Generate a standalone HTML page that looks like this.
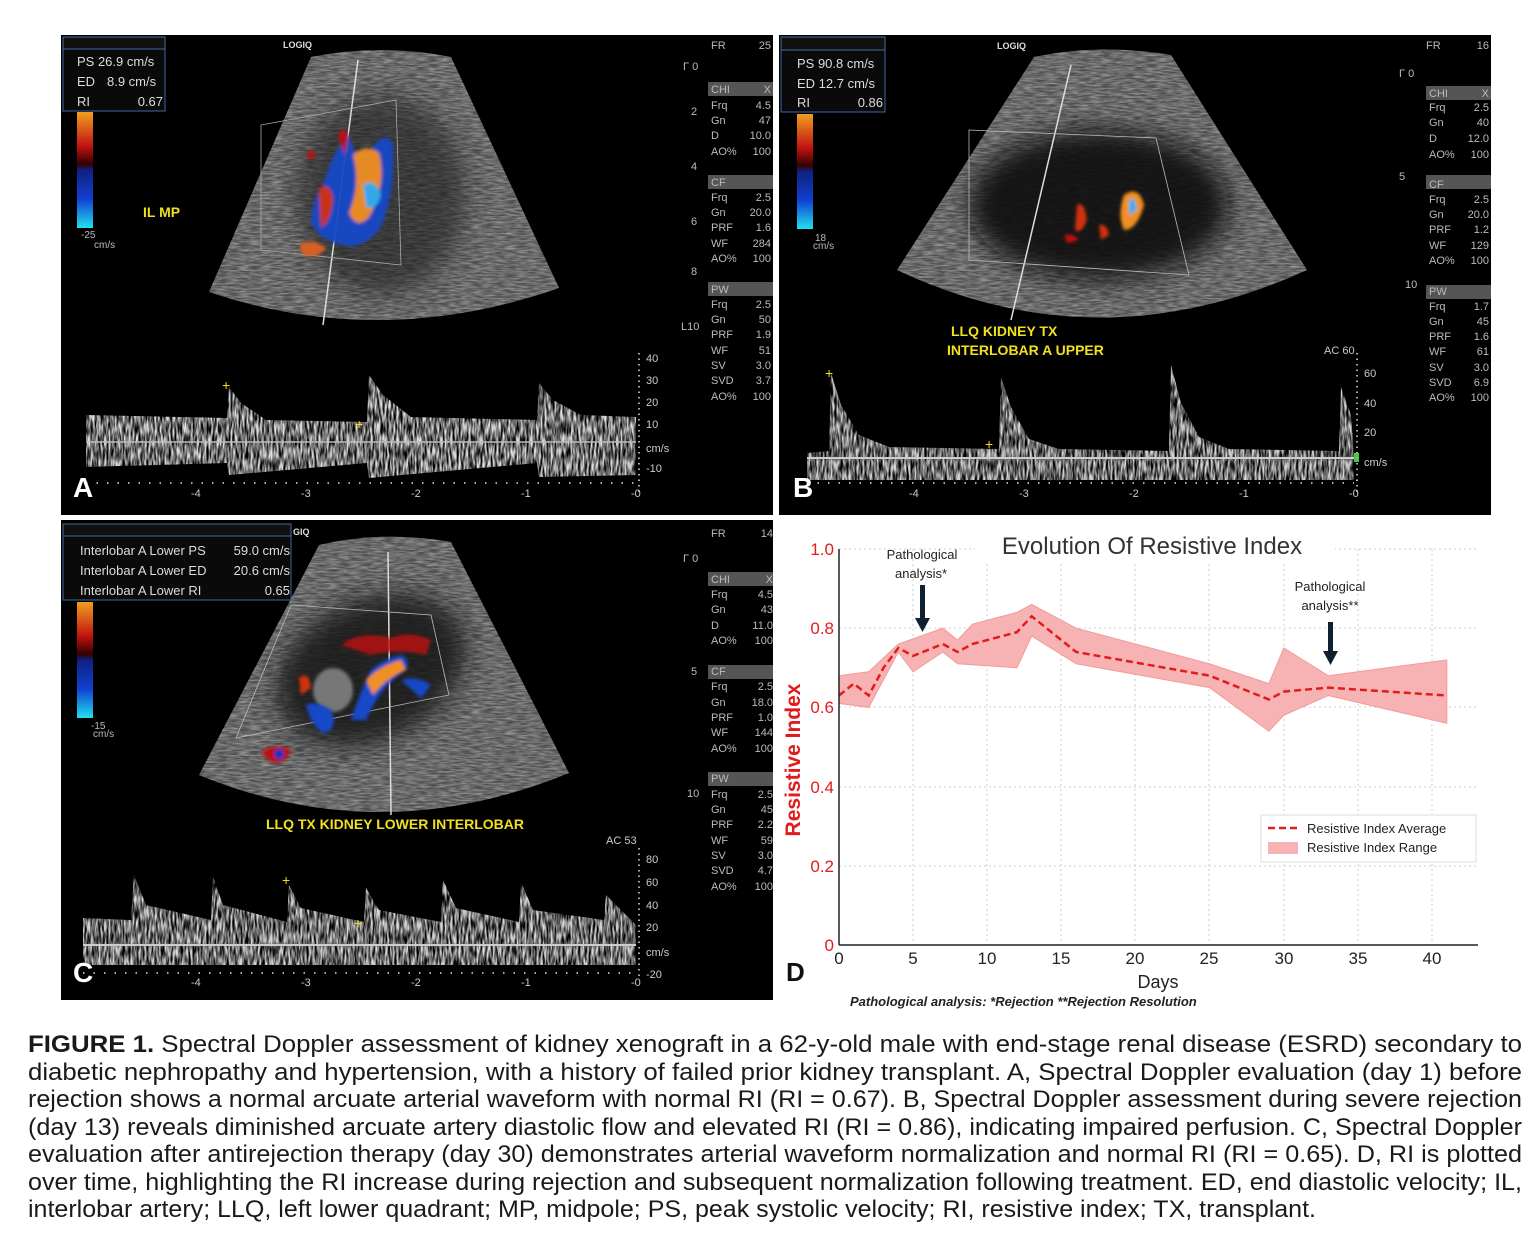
<!DOCTYPE html>
<html><head><meta charset="utf-8"><style>
body{margin:0;background:#fff;width:1530px;height:1240px;overflow:hidden}
svg{position:absolute;left:0;top:0}
.s{font-family:"Liberation Sans",sans-serif}
</style></head><body>
<svg width="1530" height="1240" viewBox="0 0 1530 1240" class="s">
<defs>
<filter id="tex" x="0" y="0" width="100%" height="100%">
<feTurbulence type="fractalNoise" baseFrequency="0.09 0.6" numOctaves="2" seed="3" result="n"/>
<feColorMatrix in="n" type="matrix" values="0 0 0 0 0.6  0 0 0 0 0.6  0 0 0 0 0.6  0 0 0 1.6 -0.45" result="m"/>
<feComposite in="SourceGraphic" in2="m" operator="in"/>
</filter>
<filter id="tex2" x="0" y="0" width="100%" height="100%">
<feTurbulence type="fractalNoise" baseFrequency="0.5 0.08" numOctaves="2" seed="7" result="n"/>
<feColorMatrix in="n" type="matrix" values="0 0 0 0 1  0 0 0 0 1  0 0 0 0 1  0 0 0 2.2 -0.6" result="m"/>
<feComposite in="SourceGraphic" in2="m" operator="in"/>
</filter>
<filter id="bl" x="-30%" y="-30%" width="160%" height="160%"><feGaussianBlur stdDeviation="12"/></filter>
<filter id="bl2" x="-30%" y="-30%" width="160%" height="160%"><feGaussianBlur stdDeviation="1.5"/></filter>
<radialGradient id="kid" cx="0.5" cy="0.5" r="0.5"><stop offset="0" stop-color="#1a1a1a"/><stop offset="0.7" stop-color="#2a2a2a"/><stop offset="1" stop-color="#2a2a2a" stop-opacity="0"/></radialGradient>
<linearGradient id="cbar" x1="0" y1="0" x2="0" y2="1"><stop offset="0" stop-color="#f0a020"/><stop offset="0.3" stop-color="#c01010"/><stop offset="0.45" stop-color="#300"/><stop offset="0.5" stop-color="#102080"/><stop offset="0.75" stop-color="#1040d0"/><stop offset="1" stop-color="#20e0f0"/></linearGradient>
</defs>

<!-- ============ PANEL A ============ -->
<g transform="translate(61,35)">
<rect width="712" height="480" fill="#000"/>
<path d="M250,22 Q320,8 390,22 L498,253 Q320,315 148,257 Z" fill="#4e4e4e"/>
<path d="M250,22 Q320,8 390,22 L498,253 Q320,315 148,257 Z" fill="#a0a0a0" filter="url(#tex)"/>
<ellipse cx="320" cy="160" rx="85" ry="100" fill="#1c1c1c" opacity="0.6" filter="url(#bl)"/>
<line x1="297" y1="25" x2="262" y2="290" stroke="#ddd" stroke-width="1.5"/>
<path d="M200,90 L335,65 L340,230 L200,215 Z" fill="none" stroke="#aaa" stroke-width="0.8"/>
<g opacity="0.95" filter="url(#bl2)">
<path d="M262,150 Q272,115 288,100 Q298,135 308,118 Q325,92 332,110 Q334,165 318,195 Q300,215 282,210 Q258,205 250,188 Q250,168 262,150 Z" fill="#1848c8"/>
<path d="M292,120 Q305,108 318,118 Q326,150 308,182 Q296,195 288,178 Q300,150 292,120 Z" fill="#f09020"/>
<path d="M258,155 Q266,145 272,162 Q270,188 260,192 Z" fill="#d03010"/>
<path d="M302,150 Q314,142 320,160 Q316,176 305,172 Z" fill="#30b0f0"/>
<path d="M277,100 Q283,90 287,100 L284,120 Z" fill="#c01010"/>
<path d="M238,210 Q252,202 265,213 Q258,224 242,220 Z" fill="#e06020"/>
<circle cx="250" cy="120" r="4" fill="#c01010"/>
</g>
<rect x="2" y="2" width="102" height="12" fill="#111" stroke="#4a6a9a"/>
<rect x="2" y="14" width="102" height="62" fill="#0a0a0a" stroke="#3a6aa0"/>
<g fill="#ddd" font-size="13"><text x="16" y="31">PS 26.9 cm/s</text><text x="16" y="51">ED</text><text x="46" y="51">8.9 cm/s</text><text x="16" y="71">RI</text><text x="102" y="71" text-anchor="end">0.67</text></g>
<rect x="16" y="77" width="16" height="116" fill="url(#cbar)"/>
<text x="20" y="203" fill="#bbb" font-size="10">-25</text><text x="33" y="213" fill="#bbb" font-size="10">cm/s</text>
<text x="82" y="182" fill="#f0e020" font-size="14" font-weight="bold">IL MP</text>
<text x="222" y="13" fill="#ddd" font-size="9" font-weight="bold">LOGIQ</text>
<path d="M25,380 L166,383 L168,352 L180,368 L205,385 L306,387 L308,340 L322,360 L350,382 L476,385 L478,348 L492,365 L520,380 L575,382 L575,440 L478,442 L476,428 L308,443 L306,428 L168,440 L166,428 L25,432 Z" fill="#e0e0e0" filter="url(#tex2)"/>
<line x1="25" y1="407" x2="575" y2="407" stroke="#bbb" stroke-width="1.5"/>
<g fill="#f0e020" font-size="14"><text x="161" y="355">+</text><text x="294" y="394">+</text></g>
<line x1="25" y1="448" x2="575" y2="448" stroke="#aaa" stroke-width="2" stroke-dasharray="1.5 9"/>
<line x1="578" y1="318" x2="578" y2="460" stroke="#aaa" stroke-width="2" stroke-dasharray="1.5 4"/>
<g fill="#ccc" font-size="11"><text x="585" y="327">40</text><text x="585" y="349">30</text><text x="585" y="371">20</text><text x="585" y="393">10</text><text x="585" y="417">cm/s</text><text x="585" y="437">-10</text>
<text x="130" y="462">-4</text><text x="240" y="462">-3</text><text x="350" y="462">-2</text><text x="460" y="462">-1</text><text x="570" y="462">-0</text></g>
<text x="12" y="462" fill="#fff" font-size="28" font-weight="bold">A</text>
<g fill="#bbb" font-size="11"><text x="650" y="14">FR</text><text x="710" y="14" text-anchor="end">25</text>
<text x="622" y="35">Γ 0</text><text x="630" y="80">2</text><text x="630" y="135">4</text><text x="630" y="190">6</text><text x="630" y="240">8</text><text x="620" y="295">L10</text></g>
<g fill="#555"><rect x="647" y="47" width="65" height="14"/><rect x="647" y="140" width="65" height="14"/><rect x="647" y="247" width="65" height="14"/></g>
<g fill="#bbb" font-size="11">
<text x="650" y="58">CHI</text><text x="710" y="58" text-anchor="end">X</text>
<text x="650" y="74">Frq</text><text x="710" y="74" text-anchor="end">4.5</text>
<text x="650" y="89">Gn</text><text x="710" y="89" text-anchor="end">47</text>
<text x="650" y="104">D</text><text x="710" y="104" text-anchor="end">10.0</text>
<text x="650" y="120">AO%</text><text x="710" y="120" text-anchor="end">100</text>
<text x="650" y="151">CF</text>
<text x="650" y="166">Frq</text><text x="710" y="166" text-anchor="end">2.5</text>
<text x="650" y="181">Gn</text><text x="710" y="181" text-anchor="end">20.0</text>
<text x="650" y="196">PRF</text><text x="710" y="196" text-anchor="end">1.6</text>
<text x="650" y="212">WF</text><text x="710" y="212" text-anchor="end">284</text>
<text x="650" y="227">AO%</text><text x="710" y="227" text-anchor="end">100</text>
<text x="650" y="258">PW</text>
<text x="650" y="273">Frq</text><text x="710" y="273" text-anchor="end">2.5</text>
<text x="650" y="288">Gn</text><text x="710" y="288" text-anchor="end">50</text>
<text x="650" y="303">PRF</text><text x="710" y="303" text-anchor="end">1.9</text>
<text x="650" y="319">WF</text><text x="710" y="319" text-anchor="end">51</text>
<text x="650" y="334">SV</text><text x="710" y="334" text-anchor="end">3.0</text>
<text x="650" y="349">SVD</text><text x="710" y="349" text-anchor="end">3.7</text>
<text x="650" y="365">AO%</text><text x="710" y="365" text-anchor="end">100</text></g>
</g>

<!-- ============ PANEL B ============ -->
<g transform="translate(779,35)">
<rect width="712" height="480" fill="#000"/>
<path d="M255,22 Q320,8 392,20 L528,235 Q320,330 118,235 Z" fill="#4e4e4e"/>
<path d="M255,22 Q320,8 392,20 L528,235 Q320,330 118,235 Z" fill="#a0a0a0" filter="url(#tex)"/>
<ellipse cx="320" cy="170" rx="130" ry="75" fill="#111" opacity="0.9" filter="url(#bl)"/>
<line x1="292" y1="30" x2="232" y2="285" stroke="#ddd" stroke-width="1.5"/>
<path d="M190,95 L377,103 L410,240 L190,225 Z" fill="none" stroke="#bbb" stroke-width="0.8"/>
<g filter="url(#bl2)"><path d="M345,160 Q360,150 365,170 Q358,195 345,195 Q338,180 345,160 Z" fill="#f09020"/><path d="M350,165 Q356,160 358,175 L350,180 Z" fill="#30b0f0"/>
<path d="M298,170 Q305,165 308,185 Q302,200 296,195 Z" fill="#d03010"/><path d="M320,190 Q328,188 330,200 L322,205 Z" fill="#d03010"/><path d="M285,200 Q295,198 300,205 L288,208 Z" fill="#c01010"/></g>
<rect x="2" y="2" width="104" height="13" fill="#111" stroke="#4a6a9a"/>
<rect x="2" y="15" width="104" height="62" fill="#0a0a0a" stroke="#3a6aa0"/>
<g fill="#ddd" font-size="13"><text x="18" y="33">PS 90.8 cm/s</text><text x="18" y="53">ED 12.7 cm/s</text><text x="18" y="72">RI</text><text x="104" y="72" text-anchor="end">0.86</text></g>
<rect x="18" y="79" width="16" height="115" fill="url(#cbar)"/>
<text x="36" y="206" fill="#bbb" font-size="10">18</text><text x="34" y="214" fill="#bbb" font-size="10">cm/s</text>
<text x="218" y="14" fill="#ddd" font-size="9" font-weight="bold">LOGIQ</text>
<text x="172" y="301" fill="#f0e020" font-size="14" font-weight="bold">LLQ KIDNEY TX</text>
<text x="168" y="320" fill="#f0e020" font-size="14" font-weight="bold">INTERLOBAR A UPPER</text>
<text x="545" y="319" fill="#ccc" font-size="11">AC 60</text>
<path d="M28,418 L50,416 L52,338 L62,370 L80,400 L110,412 L220,414 L222,342 L232,372 L250,404 L280,414 L390,416 L392,330 L402,368 L420,402 L450,414 L560,416 L562,352 L572,380 L575,420 L575,445 L28,445 Z" fill="#d8d8d8" filter="url(#tex2)"/>
<line x1="28" y1="423" x2="575" y2="423" stroke="#ccc" stroke-width="2"/>
<rect x="575" y="418" width="5" height="9" fill="#4c4"/>
<g fill="#f0e020" font-size="14"><text x="46" y="343">+</text><text x="206" y="414">+</text></g>
<line x1="28" y1="448" x2="575" y2="448" stroke="#aaa" stroke-width="2" stroke-dasharray="1.5 9"/>
<line x1="578" y1="318" x2="578" y2="460" stroke="#aaa" stroke-width="2" stroke-dasharray="1.5 4"/>
<g fill="#ccc" font-size="11"><text x="585" y="342">60</text><text x="585" y="372">40</text><text x="585" y="401">20</text><text x="585" y="431">cm/s</text>
<text x="130" y="462">-4</text><text x="240" y="462">-3</text><text x="350" y="462">-2</text><text x="460" y="462">-1</text><text x="570" y="462">-0</text></g>
<text x="14" y="462" fill="#fff" font-size="28" font-weight="bold">B</text>
<g fill="#bbb" font-size="11"><text x="647" y="14">FR</text><text x="710" y="14" text-anchor="end">16</text>
<text x="620" y="42">Γ 0</text><text x="620" y="145">5</text><text x="626" y="253">10</text></g>
<g fill="#555"><rect x="647" y="51" width="65" height="14"/><rect x="647" y="140" width="65" height="14"/><rect x="647" y="250" width="65" height="14"/></g>
<g fill="#bbb" font-size="11">
<text x="650" y="62">CHI</text><text x="710" y="62" text-anchor="end">X</text>
<text x="650" y="76">Frq</text><text x="710" y="76" text-anchor="end">2.5</text>
<text x="650" y="91">Gn</text><text x="710" y="91" text-anchor="end">40</text>
<text x="650" y="107">D</text><text x="710" y="107" text-anchor="end">12.0</text>
<text x="650" y="123">AO%</text><text x="710" y="123" text-anchor="end">100</text>
<text x="650" y="153">CF</text>
<text x="650" y="168">Frq</text><text x="710" y="168" text-anchor="end">2.5</text>
<text x="650" y="183">Gn</text><text x="710" y="183" text-anchor="end">20.0</text>
<text x="650" y="198">PRF</text><text x="710" y="198" text-anchor="end">1.2</text>
<text x="650" y="214">WF</text><text x="710" y="214" text-anchor="end">129</text>
<text x="650" y="229">AO%</text><text x="710" y="229" text-anchor="end">100</text>
<text x="650" y="260">PW</text>
<text x="650" y="275">Frq</text><text x="710" y="275" text-anchor="end">1.7</text>
<text x="650" y="290">Gn</text><text x="710" y="290" text-anchor="end">45</text>
<text x="650" y="305">PRF</text><text x="710" y="305" text-anchor="end">1.6</text>
<text x="650" y="320">WF</text><text x="710" y="320" text-anchor="end">61</text>
<text x="650" y="336">SV</text><text x="710" y="336" text-anchor="end">3.0</text>
<text x="650" y="351">SVD</text><text x="710" y="351" text-anchor="end">6.9</text>
<text x="650" y="366">AO%</text><text x="710" y="366" text-anchor="end">100</text></g>
</g>

<!-- ============ PANEL C ============ -->
<g transform="translate(61,520)">
<rect width="712" height="480" fill="#000"/>
<path d="M258,25 Q320,10 390,22 L508,253 Q320,330 138,255 Z" fill="#4e4e4e"/>
<path d="M258,25 Q320,10 390,22 L508,253 Q320,330 138,255 Z" fill="#a0a0a0" filter="url(#tex)"/>
<ellipse cx="310" cy="150" rx="100" ry="70" fill="#151515" opacity="0.85" transform="rotate(-25 310 150)" filter="url(#bl)"/>
<ellipse cx="272" cy="170" rx="20" ry="22" fill="#777" filter="url(#bl2)"/>
<line x1="327" y1="32" x2="330" y2="295" stroke="#ddd" stroke-width="1.5"/>
<path d="M175,218 L230,85 L370,95 L388,175 Z" fill="none" stroke="#bbb" stroke-width="0.8"/>
<g filter="url(#bl2)"><path d="M290,200 Q300,170 310,150 Q320,140 340,135 Q350,140 345,150 Q320,165 305,200 Z" fill="#1848c8"/>
<path d="M305,160 Q320,145 340,140 L345,150 Q325,158 312,175 Z" fill="#f09020"/>
<path d="M245,185 Q255,180 270,190 Q278,210 262,213 Q250,205 245,185 Z" fill="#1848c8"/>
<path d="M238,158 Q248,150 250,168 L240,175 Z" fill="#d03010"/>
<path d="M200,232 Q215,222 230,230 Q225,245 210,242 Z" fill="#c01010"/><circle cx="218" cy="234" r="5" fill="#1030c0"/>
<path d="M280,125 Q300,110 330,118 Q350,110 370,120 L365,135 Q340,128 310,135 Z" fill="#c01010" opacity="0.8"/>
<path d="M340,160 Q355,155 370,165 L360,178 Z" fill="#1848c8"/></g>
<rect x="2" y="4" width="228" height="12" fill="#111" stroke="#4a6a9a"/>
<rect x="2" y="16" width="228" height="64" fill="#0a0a0a" stroke="#3a6aa0"/>
<g fill="#ddd" font-size="13"><text x="19" y="35">Interlobar A Lower PS</text><text x="229" y="35" text-anchor="end">59.0 cm/s</text>
<text x="19" y="55">Interlobar A Lower ED</text><text x="229" y="55" text-anchor="end">20.6 cm/s</text>
<text x="19" y="75">Interlobar A Lower RI</text><text x="229" y="75" text-anchor="end">0.65</text></g>
<text x="232" y="15" fill="#ddd" font-size="9" font-weight="bold">GIQ</text>
<rect x="16" y="82" width="16" height="116" fill="url(#cbar)"/>
<text x="30" y="209" fill="#bbb" font-size="10">-15</text><text x="32" y="217" fill="#bbb" font-size="10">cm/s</text>
<text x="205" y="309" fill="#f0e020" font-size="14" font-weight="bold">LLQ TX KIDNEY LOWER INTERLOBAR</text>
<text x="545" y="324" fill="#ccc" font-size="11">AC 53</text>
<path d="M22,398 L70,400 L73,355 L85,385 L150,400 L152,357 L162,385 L226,402 L228,365 L240,388 L303,402 L305,368 L318,390 L380,402 L382,360 L395,388 L458,402 L460,362 L472,390 L543,400 L545,375 L575,405 L575,445 L22,445 Z" fill="#d8d8d8" filter="url(#tex2)"/>
<line x1="22" y1="425" x2="575" y2="425" stroke="#ccc" stroke-width="2"/>
<g fill="#f0e020" font-size="14"><text x="221" y="365">+</text><text x="293" y="408">+</text></g>
<line x1="22" y1="453" x2="575" y2="453" stroke="#aaa" stroke-width="2" stroke-dasharray="1.5 9"/>
<line x1="578" y1="328" x2="578" y2="460" stroke="#aaa" stroke-width="2" stroke-dasharray="1.5 4"/>
<g fill="#ccc" font-size="11"><text x="585" y="343">80</text><text x="585" y="366">60</text><text x="585" y="389">40</text><text x="585" y="411">20</text><text x="585" y="436">cm/s</text><text x="585" y="458">-20</text>
<text x="130" y="466">-4</text><text x="240" y="466">-3</text><text x="350" y="466">-2</text><text x="460" y="466">-1</text><text x="570" y="466">-0</text></g>
<text x="12" y="462" fill="#fff" font-size="28" font-weight="bold">C</text>
<g fill="#bbb" font-size="11"><text x="650" y="17">FR</text><text x="712" y="17" text-anchor="end">14</text>
<text x="622" y="42">Γ 0</text><text x="630" y="155">5</text><text x="626" y="277">10</text></g>
<g fill="#555"><rect x="647" y="52" width="65" height="14"/><rect x="647" y="145" width="65" height="14"/><rect x="647" y="252" width="65" height="14"/></g>
<g fill="#bbb" font-size="11">
<text x="650" y="63">CHI</text><text x="712" y="63" text-anchor="end">X</text>
<text x="650" y="78">Frq</text><text x="712" y="78" text-anchor="end">4.5</text>
<text x="650" y="93">Gn</text><text x="712" y="93" text-anchor="end">43</text>
<text x="650" y="109">D</text><text x="712" y="109" text-anchor="end">11.0</text>
<text x="650" y="124">AO%</text><text x="712" y="124" text-anchor="end">100</text>
<text x="650" y="155">CF</text>
<text x="650" y="170">Frq</text><text x="712" y="170" text-anchor="end">2.5</text>
<text x="650" y="186">Gn</text><text x="712" y="186" text-anchor="end">18.0</text>
<text x="650" y="201">PRF</text><text x="712" y="201" text-anchor="end">1.0</text>
<text x="650" y="216">WF</text><text x="712" y="216" text-anchor="end">144</text>
<text x="650" y="232">AO%</text><text x="712" y="232" text-anchor="end">100</text>
<text x="650" y="262">PW</text>
<text x="650" y="278">Frq</text><text x="712" y="278" text-anchor="end">2.5</text>
<text x="650" y="293">Gn</text><text x="712" y="293" text-anchor="end">45</text>
<text x="650" y="308">PRF</text><text x="712" y="308" text-anchor="end">2.2</text>
<text x="650" y="324">WF</text><text x="712" y="324" text-anchor="end">59</text>
<text x="650" y="339">SV</text><text x="712" y="339" text-anchor="end">3.0</text>
<text x="650" y="354">SVD</text><text x="712" y="354" text-anchor="end">4.7</text>
<text x="650" y="370">AO%</text><text x="712" y="370" text-anchor="end">100</text></g>
</g>

<!-- ============ PANEL D (chart) ============ -->
<g stroke="#ccc" stroke-width="1" stroke-dasharray="2 3">
<line x1="913" y1="549" x2="913" y2="945"/><line x1="987" y1="549" x2="987" y2="945"/><line x1="1061" y1="549" x2="1061" y2="945"/><line x1="1135" y1="549" x2="1135" y2="945"/><line x1="1209" y1="549" x2="1209" y2="945"/><line x1="1284" y1="549" x2="1284" y2="945"/><line x1="1358" y1="549" x2="1358" y2="945"/><line x1="1432" y1="549" x2="1432" y2="945"/>
<line x1="839" y1="549" x2="1478" y2="549"/><line x1="839" y1="628" x2="1478" y2="628"/><line x1="839" y1="707" x2="1478" y2="707"/><line x1="839" y1="787" x2="1478" y2="787"/><line x1="839" y1="866" x2="1478" y2="866"/>
</g>
<path d="M839,675.7 L868.7,671.8 L898.3,644 L942.8,628.2 L957.6,640.1 L972.4,624.2 L1016.9,612.4 L1031.7,604.4 L1076.2,628.2 L1209.6,663.8 L1268.9,683.6 L1283.8,648 L1328.2,675.7 L1446.8,659.9 L1446.8,723.2 L1328.2,695.5 L1283.8,715.3 L1268.9,731.2 L1209.6,687.6 L1076.2,663.8 L1031.7,636.1 L1016.9,667.8 L957.6,663.8 L942.8,652 L913.1,671.8 L898.3,652 L868.7,707.4 L839,703.4 Z" fill="#f7b3b3" stroke="#f29a9a" stroke-width="1"/>
<path d="M839,695.5 L853.8,683.6 L868.7,695.5 L883.5,667.8 L898.3,648 L913.1,655.9 L942.8,644 L957.6,652 L972.4,644 L1016.9,632.2 L1031.7,616.3 L1076.2,652 L1209.6,675.7 L1268.9,699.5 L1283.8,691.6 L1328.2,687.6 L1446.8,695.5" fill="none" stroke="#e21b1b" stroke-width="2.5" stroke-dasharray="7 4"/>
<line x1="839" y1="549" x2="839" y2="945" stroke="#222" stroke-width="1.5"/>
<line x1="839" y1="945" x2="1478" y2="945" stroke="#222" stroke-width="1.5"/>
<g fill="#e21b1b" font-size="17" text-anchor="end"><text x="834" y="555">1.0</text><text x="834" y="634">0.8</text><text x="834" y="713">0.6</text><text x="834" y="793">0.4</text><text x="834" y="872">0.2</text><text x="834" y="951">0</text></g>
<g fill="#222" font-size="17" text-anchor="middle"><text x="839" y="964">0</text><text x="913" y="964">5</text><text x="987" y="964">10</text><text x="1061" y="964">15</text><text x="1135" y="964">20</text><text x="1209" y="964">25</text><text x="1284" y="964">30</text><text x="1358" y="964">35</text><text x="1432" y="964">40</text></g>
<text x="1158" y="988" fill="#222" font-size="18" text-anchor="middle">Days</text>
<text transform="translate(800,760) rotate(-90)" fill="#e21b1b" font-size="21" font-weight="bold" text-anchor="middle">Resistive Index</text>
<rect x="975" y="530" width="360" height="32" fill="#fff"/>
<text x="1152" y="554" fill="#333" font-size="24" text-anchor="middle">Evolution Of Resistive Index</text>
<g fill="#222" font-size="13" text-anchor="middle"><text x="922" y="559">Pathological</text><text x="921" y="578">analysis*</text><text x="1330" y="591">Pathological</text><text x="1330" y="610">analysis**</text></g>
<g fill="#102030"><rect x="920" y="585" width="5" height="36"/><path d="M915,618 L930,618 L922.5,632 Z"/><rect x="1328" y="622" width="5" height="32"/><path d="M1323,651 L1338,651 L1330.5,665 Z"/></g>
<rect x="1261" y="815" width="215" height="47" fill="#fff" stroke="#ddd"/>
<line x1="1268" y1="828" x2="1298" y2="828" stroke="#e21b1b" stroke-width="2.5" stroke-dasharray="7 4"/>
<rect x="1268" y="842" width="30" height="12" fill="#f7b3b3"/>
<g fill="#222" font-size="13"><text x="1307" y="833">Resistive Index Average</text><text x="1307" y="852">Resistive Index Range</text></g>
<text x="786" y="981" fill="#111" font-size="26" font-weight="bold">D</text>
<text x="850" y="1006" fill="#222" font-size="13" font-style="italic" font-weight="bold">Pathological analysis: *Rejection   **Rejection Resolution</text>

<!-- ============ CAPTION ============ -->
<g fill="#1a1a1a" font-size="24">
<text x="28" y="1052" textLength="1494" lengthAdjust="spacingAndGlyphs"><tspan font-weight="bold">FIGURE 1.</tspan> Spectral Doppler assessment of kidney xenograft in a 62-y-old male with end-stage renal disease (ESRD) secondary to</text>
<text x="28" y="1080" textLength="1494" lengthAdjust="spacingAndGlyphs">diabetic nephropathy and hypertension, with a history of failed prior kidney transplant. A, Spectral Doppler evaluation (day 1) before</text>
<text x="28" y="1107" textLength="1494" lengthAdjust="spacingAndGlyphs">rejection shows a normal arcuate arterial waveform with normal RI (RI = 0.67). B, Spectral Doppler assessment during severe rejection</text>
<text x="28" y="1135" textLength="1494" lengthAdjust="spacingAndGlyphs">(day 13) reveals diminished arcuate artery diastolic flow and elevated RI (RI = 0.86), indicating impaired perfusion. C, Spectral Doppler</text>
<text x="28" y="1162" textLength="1494" lengthAdjust="spacingAndGlyphs">evaluation after antirejection therapy (day 30) demonstrates arterial waveform normalization and normal RI (RI = 0.65). D, RI is plotted</text>
<text x="28" y="1190" textLength="1494" lengthAdjust="spacingAndGlyphs">over time, highlighting the RI increase during rejection and subsequent normalization following treatment. ED, end diastolic velocity; IL,</text>
<text x="28" y="1217" textLength="1288" lengthAdjust="spacingAndGlyphs">interlobar artery; LLQ, left lower quadrant; MP, midpole; PS, peak systolic velocity; RI, resistive index; TX, transplant.</text>
</g>
</svg>
</body></html>
